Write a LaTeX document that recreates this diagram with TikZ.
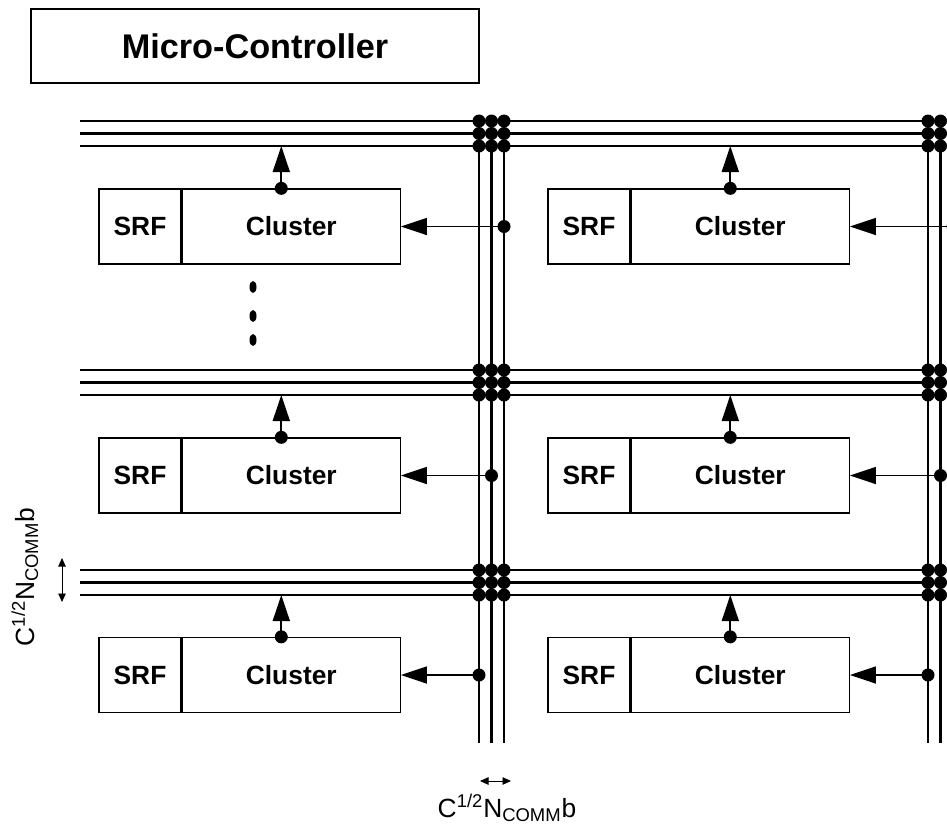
\documentclass[tikz,border=0pt]{standalone}
\usepackage{fontspec}
\setmainfont{Liberation Sans}
\usetikzlibrary{arrows.meta,positioning}
\tikzset{
  bus/.style={line width=1.5pt},
  feed/.style={line width=0.95pt, -{Triangle[length=0.52cm,width=0.34cm]}},
  dim/.style={line width=0.5pt, {Triangle[length=0.17cm,width=0.15cm]}-{Triangle[length=0.17cm,width=0.15cm]}},
  srfbox/.style={draw, line width=0.75pt, inner sep=0pt, minimum width=1.64cm, minimum height=1.5cm, font=\fontsize{15}{18}\selectfont\bfseries},
  clbox/.style={srfbox, minimum width=4.36cm},
  mcbox/.style={draw, line width=0.75pt, inner sep=0pt, minimum width=8.96cm, minimum height=1.48cm, font=\fontsize{19.5}{23}\selectfont\bfseries},
  lbl/.style={font=\fontsize{15}{18}\selectfont, inner sep=0pt}
}
\def\junc(#1){\fill (#1) circle (0.13cm);}

\begin{document}
\begin{tikzpicture}[x=0.02cm, y=-0.02cm]
	%%%%% START %%%%%
	\useasboundingbox (0,0) rectangle (947,829);
	\clip (0,0) rectangle (947,829);
	
	\node[mcbox] (mc) at (255,46) {Micro-Controller};
	
	% bus lines
	\foreach \row/\y in {1/121,2/370,3/570}
		\foreach \k in {1,2,3}
			\coordinate (h\row\k) at (80,{\y+12.5*(\k-1)});
	\foreach \col/\x in {1/479,2/928}
		\foreach \k in {1,2,3}
			\coordinate (v\col\k) at ({\x+12.5*(\k-1)},121);
	
	\foreach \row in {1,2,3} \foreach \k in {1,2,3} {\draw[bus] (h\row\k) -- ++(880,0);}
	\foreach \col in {1,2} \foreach \k in {1,2,3} {\draw[bus] (v\col\k) -- ++(0,622);}
	\foreach \col in {1,2} \foreach \row in {1,2,3} \foreach \j in {1,2,3} \foreach \k in {1,2,3} {\junc(v\col\j |- h\row\k)}
	
	% clusters
	\foreach \row/\y in {1/226.5,2/475.5,3/675}
		\foreach \col/\x in {1/140,2/589} {
			\node[srfbox] (s\row\col) at (\x,\y) {SRF};
			\node[clbox, right=0pt of s\row\col] (k\row\col) {Cluster};
		}
	
	% cluster -> bus
	\foreach \row in {1,2,3} \foreach \col in {1,2} {
		\path (k\row\col.north) ++(-10,0) coordinate (t\row\col);
		\draw[feed] (t\row\col) -- (t\row\col |- h\row3);
		\junc(t\row\col)
	}
	
	% bus -> cluster
	\foreach \row/\vl in {1/3,2/2,3/1} \foreach \col in {1,2} {
		\draw[feed] (k\row\col.east -| v\col\vl) -- (k\row\col.east);
		\junc(k\row\col.east -| v\col\vl)
	}
	
	\fill (253,287) ellipse [x radius=0.07cm, y radius=0.12cm];
	\fill (253,316) ellipse [x radius=0.07cm, y radius=0.12cm];
	\fill (253,340) ellipse [x radius=0.07cm, y radius=0.12cm];
	
	% widths
	\node[lbl, rotate=90, anchor=base] (wv) at (34,577) {C\textsuperscript{1/2}N\textsubscript{COMM}b};
	\coordinate (da) at (62,558);
	\coordinate (db) at (62,602);
	\draw[dim] (da) -- (db);
	
	\node[lbl, anchor=base] (wh) at (507,817) {C\textsuperscript{1/2}N\textsubscript{COMM}b};
	\coordinate (dc) at (480,781);
	\coordinate (dd) at (511,781);
	\draw[dim] (dc) -- (dd);
	
	%%%%% END %%%%%
\end{tikzpicture}
\end{document}
